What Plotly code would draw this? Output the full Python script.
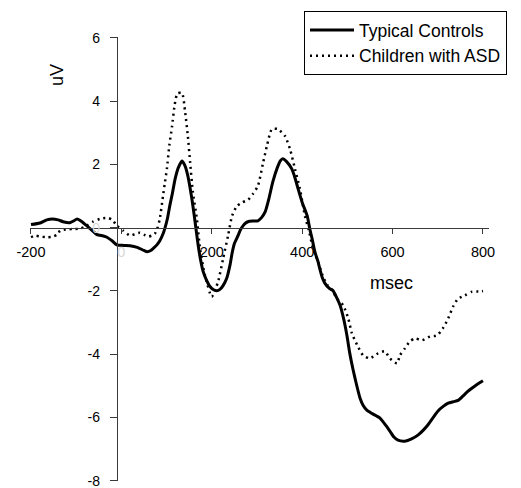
import plotly.graph_objects as go

# ---- data (msec, uV) ----
tc_x = [-200, -180, -165, -153, -140, -129, -114, -105, -98, -88, -74, -62, -54, -40, -32, -20, -10,
        5, 19, 35, 50, 57, 65, 70, 78, 85, 92, 96, 102, 107, 113, 119, 126, 134, 141, 147, 156, 163,
        170, 175, 181, 188, 196, 204, 211, 218, 225, 233, 240, 245, 250, 258, 264, 269, 275, 280,
        290, 302, 310, 318, 326, 335, 345, 352, 357, 365, 377, 384, 391, 400, 411, 417, 422, 428,
        435, 439, 445, 450, 460, 468, 476, 484, 492, 499, 505, 512, 520, 528, 535, 543, 555, 572,
        585, 594, 603, 612, 627, 642, 656, 668, 678, 690, 700, 712, 723, 735, 745, 756, 767, 780,
        790, 800]
tc_y = [0.10, 0.15, 0.25, 0.28, 0.25, 0.19, 0.16, 0.22, 0.28, 0.20, 0.03, -0.12, -0.22, -0.26, -0.30,
        -0.42, -0.54, -0.56, -0.57, -0.62, -0.72, -0.76, -0.72, -0.66, -0.55, -0.41, -0.20, -0.03,
        0.30, 0.69, 1.10, 1.55, 1.90, 2.11, 1.95, 1.64, 0.91, 0.19, -0.57, -1.00, -1.39, -1.65,
        -1.86, -1.96, -1.99, -1.95, -1.83, -1.60, -1.20, -0.80, -0.50, -0.25, -0.05, 0.06, 0.15,
        0.19, 0.21, 0.22, 0.32, 0.50, 0.90, 1.45, 1.90, 2.12, 2.18, 2.10, 1.86, 1.58, 1.23, 0.80,
        0.38, -0.05, -0.35, -0.76, -1.07, -1.30, -1.60, -1.75, -1.92, -1.99, -2.20, -2.46, -2.90,
        -3.41, -3.95, -4.45, -4.95, -5.39, -5.62, -5.77, -5.88, -6.02, -6.25, -6.43, -6.62, -6.72,
        -6.75, -6.68, -6.56, -6.40, -6.24, -6.00, -5.80, -5.65, -5.55, -5.50, -5.46, -5.32, -5.17,
        -5.03, -4.93, -4.84]

asd_x = [-200, -190, -180, -165, -151, -140, -136, -120, -105, -92, -78, -63, -47, -30, -20, -10, 4,
         19, 30, 41, 50, 59, 67, 74, 80, 85, 92, 96, 101, 106, 112, 118, 124, 134, 141, 147, 152,
         158, 167, 174, 185, 200, 214, 225, 236, 245, 256, 267, 280, 291, 302, 313, 322, 333, 346,
         362, 373, 384, 395, 406, 415, 424, 435, 445, 455, 465, 477, 491, 502, 510, 523, 535, 550,
         568, 583, 594, 610, 616, 627, 638, 650, 665, 683, 698, 711, 723, 734, 745, 760, 776, 793,
         800]
asd_y = [-0.30, -0.25, -0.28, -0.30, -0.28, -0.20, -0.09, -0.05, -0.04, -0.03, 0.05, 0.19, 0.28,
         0.31, 0.25, 0.06, -0.09, -0.25, -0.20, -0.16, -0.22, -0.28, -0.25, -0.19, 0.00, 0.28, 1.00,
         1.40, 1.90, 2.60, 3.20, 3.90, 4.25, 4.26, 3.66, 2.90, 2.08, 1.14, 0.28, -0.66, -1.51,
         -2.18, -1.70, -0.98, -0.25, 0.38, 0.69, 0.80, 0.88, 1.07, 1.32, 2.02, 2.59, 3.12, 3.12,
         2.90, 2.49, 1.86, 1.23, 0.38, -0.10, -0.66, -1.07, -1.50, -1.80, -1.95, -2.24, -2.46,
         -2.87, -3.34, -3.75, -4.04, -4.13, -3.97, -3.91, -4.13, -4.29, -4.04, -3.82, -3.60, -3.50,
         -3.56, -3.44, -3.41, -3.19, -2.87, -2.49, -2.24, -2.14, -2.02, -2.02, -2.00]

x_ticks = [-200, 0, 200, 400, 600, 800]
x_ticktext = ["-200", "<span style='color:#d8d8d8'>0</span>", "200", "400", "600", "800"]
y_ticks = [-8, -6, -4, -2, 0, 2, 4, 6]
y_ticktext = ["-8", "-6", "-4", "-2", "<span style='color:#d8d8d8'>0</span>", "2", "4", "6"]

# ---- layout geometry ----
W, H = 521, 488
X_RANGE = [-202.2, 813.3]
X_DOMAIN = [30 / W, 489 / W]
PX_PER_UV = 31.62
Y_TOP_PX, Y_BOT_PX = 38.0, 480.7   # pixel rows of y=6 and y=-8
Y_RANGE = [-8.02, 6.02]
Y_DOMAIN = [(H - (Y_BOT_PX + 0.02 * PX_PER_UV)) / H, (H - (Y_TOP_PX - 0.02 * PX_PER_UV)) / H]
Y_CROSS_X = -10  # the value axis crosses the time axis here

y0_paper = Y_DOMAIN[0] + (0 - Y_RANGE[0]) / (Y_RANGE[1] - Y_RANGE[0]) * (Y_DOMAIN[1] - Y_DOMAIN[0])
ycross_paper = X_DOMAIN[0] + (Y_CROSS_X - X_RANGE[0]) / (X_RANGE[1] - X_RANGE[0]) * (X_DOMAIN[1] - X_DOMAIN[0])

FONT = "Arial, Liberation Sans, sans-serif"
AX = "#3a3a3a"

fig = go.Figure()
fig.add_trace(go.Scatter(x=tc_x, y=tc_y, mode="lines", name="Typical Controls",
                         line=dict(color="black", width=3, shape="spline", smoothing=0.6)))
fig.add_trace(go.Scatter(x=asd_x, y=asd_y, mode="lines", name="Children with ASD",
                         line=dict(color="black", width=2.5, dash="2px,4px", shape="spline", smoothing=0.6)))

fig.update_layout(
    width=W, height=H,
    margin=dict(l=0, r=0, t=0, b=0),
    paper_bgcolor="white", plot_bgcolor="white",
    font=dict(family=FONT, color="black"),
    xaxis=dict(domain=X_DOMAIN, range=X_RANGE, anchor="free", position=y0_paper,
               showline=True, linecolor=AX, linewidth=1, ticks="outside", ticklen=5,
               tickcolor=AX, tickwidth=1, tickvals=x_ticks, ticktext=x_ticktext,
               tickfont=dict(size=14.5, family=FONT, color="black"), ticklabelstandoff=6,
               ticklabeloverflow="allow",
               showgrid=False, zeroline=False, automargin=False),
    xaxis2=dict(domain=X_DOMAIN, range=X_RANGE, anchor="free", position=y0_paper,
                overlaying="x", side="bottom", showline=False, ticks="inside", ticklen=5,
                tickcolor=AX, tickwidth=1, tickvals=x_ticks, showticklabels=False,
                showgrid=False, zeroline=False, automargin=False),
    yaxis=dict(domain=Y_DOMAIN, range=Y_RANGE, anchor="free", position=ycross_paper,
               showline=True, linecolor=AX, linewidth=1, ticks="outside", ticklen=7,
               tickcolor=AX, tickwidth=1, tickvals=y_ticks, ticktext=y_ticktext,
               tickfont=dict(size=14, family=FONT, color="black"), ticklabelstandoff=7,
               ticklabeloverflow="allow",
               showgrid=False, zeroline=False, automargin=False),
    legend=dict(x=304 / W, y=1 - 11 / H, xanchor="left", yanchor="top",
                bgcolor="white", bordercolor="black", borderwidth=1, itemwidth=44,
                font=dict(size=17.5, family=FONT, color="black")),
    annotations=[
        dict(text="uV", xref="paper", yref="paper", x=57 / W, y=1 - 75 / H,
             showarrow=False, textangle=-90, font=dict(size=18, family=FONT, color="black"),
             xanchor="center", yanchor="middle"),
        dict(text="msec", xref="paper", yref="paper", x=391 / W, y=1 - 283 / H,
             showarrow=False, font=dict(size=18, family=FONT, color="black"),
             xanchor="center", yanchor="middle"),
    ],
)

fig.write_html("out.html", config={"displayModeBar": False},
               post_script="document.body.style.margin='0';")
